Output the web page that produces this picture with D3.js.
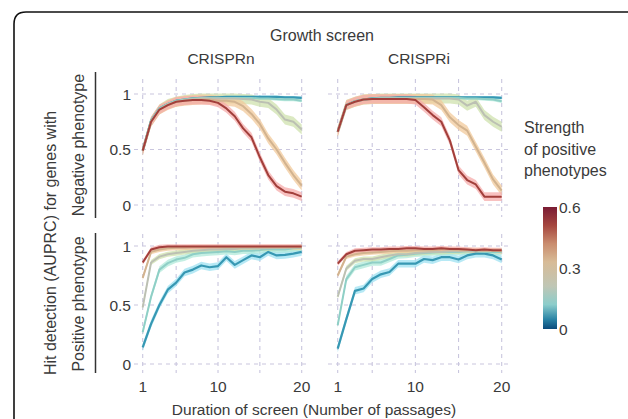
<!DOCTYPE html>
<html>
<head>
<meta charset="utf-8">
<script src="https://cdn.jsdelivr.net/npm/d3@7"></script>
<style>
  html, body { margin: 0; padding: 0; background: #fff; }
  svg { display: block; }
  text { font-family: "Liberation Sans", Arial, sans-serif; fill: #3a3a3a; }
</style>
</head>
<body>
<svg id="chart" width="628" height="419"></svg>
<script>
// Passages sampled in the simulated growth screens
const passages = [1,2,3,4,5,6,7,8,9,10,11,12,13,14,15,16,17,18,19,20];
// Strength of positive phenotypes, one series each
const strengths = [0, 0.15, 0.3, 0.45, 0.6];

// AUPRC, negative-phenotype genes, CRISPRn
const negN = [
  [0.49,0.76,0.87,0.91,0.94,0.95,0.96,0.965,0.97,0.97,0.975,0.975,0.975,0.975,0.975,0.975,0.975,0.97,0.97,0.965],
  [0.49,0.76,0.87,0.91,0.94,0.95,0.96,0.965,0.965,0.965,0.965,0.965,0.965,0.965,0.96,0.96,0.955,0.95,0.95,0.94],
  [0.49,0.75,0.86,0.91,0.93,0.945,0.955,0.96,0.96,0.96,0.96,0.96,0.955,0.95,0.93,0.92,0.86,0.77,0.75,0.68],
  [0.49,0.75,0.86,0.90,0.93,0.94,0.945,0.95,0.95,0.94,0.94,0.93,0.89,0.82,0.73,0.60,0.50,0.38,0.27,0.175],
  [0.49,0.75,0.86,0.90,0.93,0.94,0.945,0.945,0.94,0.92,0.87,0.80,0.69,0.61,0.43,0.27,0.17,0.12,0.105,0.075]
];
// AUPRC, negative-phenotype genes, CRISPRi
const negI = [
  [0.66,0.90,0.935,0.95,0.96,0.965,0.965,0.97,0.97,0.97,0.97,0.97,0.97,0.97,0.97,0.97,0.97,0.97,0.97,0.965],
  [0.66,0.90,0.935,0.95,0.96,0.965,0.965,0.965,0.965,0.965,0.965,0.965,0.965,0.965,0.965,0.96,0.96,0.955,0.95,0.935],
  [0.66,0.90,0.93,0.95,0.955,0.96,0.96,0.96,0.96,0.96,0.96,0.96,0.96,0.96,0.95,0.895,0.93,0.81,0.75,0.705],
  [0.66,0.90,0.93,0.95,0.955,0.955,0.955,0.955,0.955,0.955,0.955,0.95,0.90,0.79,0.72,0.67,0.525,0.38,0.23,0.13],
  [0.66,0.90,0.93,0.95,0.955,0.955,0.955,0.955,0.955,0.945,0.88,0.81,0.75,0.58,0.315,0.225,0.185,0.075,0.075,0.075]
];
// AUPRC, positive-phenotype genes, CRISPRn
const posN = [
  [0.14,0.34,0.50,0.63,0.69,0.775,0.80,0.835,0.82,0.83,0.905,0.84,0.88,0.92,0.905,0.95,0.92,0.925,0.935,0.95],
  [0.27,0.57,0.80,0.855,0.885,0.90,0.93,0.94,0.945,0.95,0.955,0.95,0.96,0.96,0.965,0.975,0.97,0.97,0.98,0.985],
  [0.48,0.86,0.91,0.93,0.94,0.95,0.96,0.965,0.97,0.97,0.975,0.975,0.98,0.98,0.98,0.98,0.985,0.985,0.985,0.985],
  [0.73,0.95,0.97,0.98,0.985,0.985,0.99,0.99,0.99,0.99,0.99,0.99,0.99,0.99,0.99,0.99,0.99,0.99,0.99,0.99],
  [0.86,0.97,0.99,0.995,0.995,0.995,0.995,0.995,0.995,0.995,0.995,0.995,0.995,0.995,0.995,0.995,0.995,0.995,0.995,0.995]
];
// AUPRC, positive-phenotype genes, CRISPRi
const posI = [
  [0.13,0.38,0.62,0.64,0.72,0.76,0.78,0.85,0.85,0.85,0.89,0.88,0.905,0.905,0.886,0.92,0.935,0.935,0.92,0.886],
  [0.33,0.72,0.82,0.84,0.86,0.86,0.89,0.92,0.925,0.935,0.94,0.945,0.95,0.95,0.95,0.955,0.955,0.95,0.95,0.95],
  [0.57,0.81,0.875,0.89,0.89,0.905,0.92,0.93,0.93,0.94,0.945,0.95,0.95,0.955,0.955,0.96,0.96,0.96,0.96,0.96],
  [0.75,0.91,0.93,0.94,0.945,0.95,0.955,0.96,0.96,0.965,0.965,0.965,0.97,0.97,0.965,0.965,0.965,0.96,0.96,0.955],
  [0.85,0.93,0.96,0.965,0.97,0.97,0.975,0.975,0.98,0.98,0.975,0.975,0.98,0.975,0.975,0.97,0.965,0.97,0.965,0.965]
];
// Half-width of the ribbon around each series (per strength)
const spreadNeg = [0.012, 0.015, 0.045, 0.045, 0.04];
const spreadPos = [0.032, 0.028, 0.022, 0.02, 0.02];

const xTicks = [1, 10, 20];
const xGrid = [1, 5, 10, 15, 20];
const yTicks = [0, 0.5, 1];
const yTickLabels = ["0", "0.5", "1"];
const legendTicks = [0, 0.3, 0.6];
const legendTickLabels = ["0", "0.3", "0.6"];

// Colours per strength
const lineColors = ["#3798b3", "#8fcfc6", "#bcc0b3", "#d2b38f", "#a23f3b"];
const bandColors = ["#9fe2f2", "#b0ead9", "#cfe2ae", "#f2c99b", "#f6acab"];
const barStops = [
  [0.00, "#0b4b7c"], [0.08, "#2a84a6"], [0.20, "#8ccdcb"], [0.35, "#bfc6b5"],
  [0.55, "#d7bb97"], [0.70, "#c98c6e"], [0.85, "#a5463f"], [1.00, "#7a1c34"]
];

const FS = 15.5;
const svg = d3.select("#chart");

// Rounded frame around the figure
svg.append("path")
  .attr("d", "M14,430 L14,24 Q14,12 26,12 L640,12")
  .attr("fill", "none").attr("stroke", "#111").attr("stroke-width", 1.6);

const cols = [
  { name: "CRISPRn", x0: 134, x1: 308, r: [142.7, 301.7] },
  { name: "CRISPRi", x0: 328, x1: 510, r: [337.7, 501.7] }
];
const rows = [
  { y0: 79, y1: 217, r: [205, 94], spread: spreadNeg, sets: [negN, negI] },
  { y0: 234, y1: 373, r: [364, 246], spread: spreadPos, sets: [posN, posI] }
];

const gridColor = "#c9c6de";

rows.forEach((row, ri) => {
  const y = d3.scaleLinear().domain([0, 1]).range(row.r);
  cols.forEach((col, ci) => {
    const x = d3.scaleLinear().domain([1, 20]).range(col.r);
    const g = svg.append("g");

    // dashed grid
    g.selectAll("line.h").data(yTicks).join("line")
      .attr("x1", col.x0).attr("x2", col.x1)
      .attr("y1", d => y(d)).attr("y2", d => y(d))
      .attr("stroke", gridColor).attr("stroke-width", 1.1).attr("stroke-dasharray", "4,4");
    g.selectAll("line.v").data(xGrid).join("line")
      .attr("x1", d => x(d)).attr("x2", d => x(d))
      .attr("y1", row.y0).attr("y2", row.y1)
      .attr("stroke", gridColor).attr("stroke-width", 1.1).attr("stroke-dasharray", "4,4");

    const vals = row.sets[ci];
    const area = d3.area().x((d, i) => x(passages[i]));
    const line = d3.line().x((d, i) => x(passages[i])).y(d => y(d));

    // ribbons
    strengths.forEach((s, si) => {
      const w = row.spread[si];
      g.append("path").datum(vals[si])
        .attr("d", area.y0(d => y(d - w)).y1(d => y(Math.min(d + w, 1.02))))
        .attr("fill", bandColors[si]).attr("opacity", 0.75);
    });
    // lines
    strengths.forEach((s, si) => {
      g.append("path").datum(vals[si])
        .attr("d", line)
        .attr("fill", "none").attr("stroke", lineColors[si])
        .attr("stroke-width", si === 0 ? 2.2 : 2).attr("stroke-linejoin", "round");
    });

    // y tick labels on the left column
    if (ci === 0) {
      svg.append("g").selectAll("text").data(yTicks).join("text")
        .attr("x", 131).attr("y", d => y(d)).attr("dy", "0.36em")
        .attr("text-anchor", "end").attr("font-size", FS)
        .text((d, i) => yTickLabels[i]);
    }
    // x tick labels on the bottom row
    if (ri === 1) {
      svg.append("g").selectAll("text").data(xTicks).join("text")
        .attr("x", d => x(d)).attr("y", 392)
        .attr("text-anchor", "middle").attr("font-size", FS)
        .text(d => d);
    }
    // column headers
    if (ri === 0) {
      svg.append("text").attr("x", (col.x0 + col.x1) / 2).attr("y", 64)
        .attr("text-anchor", "middle").attr("font-size", FS).text(col.name);
    }
  });
});

// row spines and row labels
svg.append("line").attr("x1", 95.5).attr("x2", 95.5).attr("y1", 72).attr("y2", 218)
  .attr("stroke", "#333").attr("stroke-width", 1.5);
svg.append("line").attr("x1", 95.5).attr("x2", 95.5).attr("y1", 233).attr("y2", 373)
  .attr("stroke", "#333").attr("stroke-width", 1.5);

function vText(x, yc, str) {
  svg.append("text").attr("transform", `translate(${x},${yc}) rotate(-90)`)
    .attr("text-anchor", "middle").attr("font-size", 16).text(str);
}
vText(56, 243, "Hit detection (AUPRC) for genes with");
vText(84, 145, "Negative phenotype");
vText(84, 304, "Positive phenotype");

svg.append("text").attr("x", 322).attr("y", 41).attr("text-anchor", "middle")
  .attr("font-size", 16).text("Growth screen");
svg.append("text").attr("x", 314).attr("y", 415).attr("text-anchor", "middle")
  .attr("font-size", FS).text("Duration of screen (Number of passages)");

// legend
const lg = svg.append("g");
["Strength", "of positive", "phenotypes"].forEach((t, i) => {
  lg.append("text").attr("x", 524).attr("y", 133 + i * 21.5).attr("font-size", 16).text(t);
});
const defs = svg.append("defs");
const grad = defs.append("linearGradient").attr("id", "strengthGrad")
  .attr("x1", 0).attr("x2", 0).attr("y1", 1).attr("y2", 0);
barStops.forEach(([o, c]) => grad.append("stop").attr("offset", o).attr("stop-color", c));
const ly = d3.scaleLinear().domain([0, 0.6]).range([329, 207]);
lg.append("rect").attr("x", 543).attr("y", ly(0.6)).attr("width", 14)
  .attr("height", ly(0) - ly(0.6)).attr("fill", "url(#strengthGrad)");
lg.selectAll("text.t").data(legendTicks).join("text")
  .attr("x", 559).attr("y", d => ly(d)).attr("dy", "0.36em")
  .attr("font-size", FS).text((d, i) => legendTickLabels[i]);
</script>
</body>
</html>
